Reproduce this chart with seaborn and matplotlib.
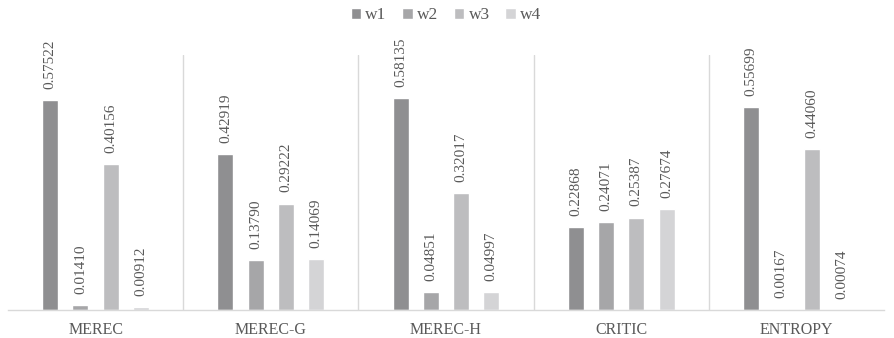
import matplotlib.pyplot as plt
import pandas as pd
import seaborn as sns

methods = ["MEREC", "MEREC-G", "MEREC-H", "CRITIC", "ENTROPY"]
weights = ["w1", "w2", "w3", "w4"]
w1 = [0.57522, 0.42919, 0.58135, 0.22868, 0.55699]
w2 = [0.01410, 0.13790, 0.04851, 0.24071, 0.00167]
w3 = [0.40156, 0.29222, 0.32017, 0.25387, 0.44060]
w4 = [0.00912, 0.14069, 0.04997, 0.27674, 0.00074]
label_text = [
    ["0.57522", "0.42919", "0.58135", "0.22868", "0.55699"],
    ["0.01410", "0.13790", "0.04851", "0.24071", "0.00167"],
    ["0.40156", "0.29222", "0.32017", "0.25387", "0.44060"],
    ["0.00912", "0.14069", "0.04997", "0.27674", "0.00074"],
]

colors = ["#8f8f91", "#a6a6a8", "#bdbdbf", "#d4d4d6"]
text_color = "#595959"
line_color = "#d9d9d9"

# long-form table for seaborn
rows = []
for name, vals in zip(weights, [w1, w2, w3, w4]):
    for m, v in zip(methods, vals):
        rows.append({"method": m, "weight": name, "value": v})
df = pd.DataFrame(rows)

sns.set_style("white")
plt.rcParams["font.family"] = ["Liberation Serif", "DejaVu Serif"]

fig = plt.figure(figsize=(8.94, 3.38), dpi=100)
ax = fig.add_axes([8 / 894, 28 / 338, 876 / 894, 255 / 338])

sns.barplot(
    data=df, x="method", y="value", hue="weight", hue_order=weights,
    order=methods, palette=colors, width=0.69, gap=0.47, ax=ax,
    saturation=1, errorbar=None, legend=True,
)

for cont, labels in zip(ax.containers, label_text):
    ax.bar_label(cont, labels=labels, rotation=90, padding=8,
                 fontsize=11, color=text_color)

ax.set_xlim(-0.5, len(methods) - 0.5)
ax.set_ylim(0, 0.70)
ax.set_yticks([])
ax.set_xlabel("")
ax.set_ylabel("")
ax.tick_params(axis="x", length=0, pad=9, labelsize=11.5, labelcolor=text_color)

for s in ["top", "left", "right"]:
    ax.spines[s].set_visible(False)
ax.spines["bottom"].set_color(line_color)
ax.spines["bottom"].set_linewidth(1)

# group separators
for x in [0.5, 1.5, 2.5, 3.5]:
    ax.axvline(x, color=line_color, linewidth=1, zorder=0)

leg = ax.legend(
    loc="center", bbox_to_anchor=(0.5, 1.155), ncol=4, frameon=False,
    fontsize=12.5, handlelength=0.6, handleheight=0.6, handletextpad=0.25,
    columnspacing=0.9, labelcolor=text_color, title=None,
)

plt.savefig("out.png", dpi=100)
